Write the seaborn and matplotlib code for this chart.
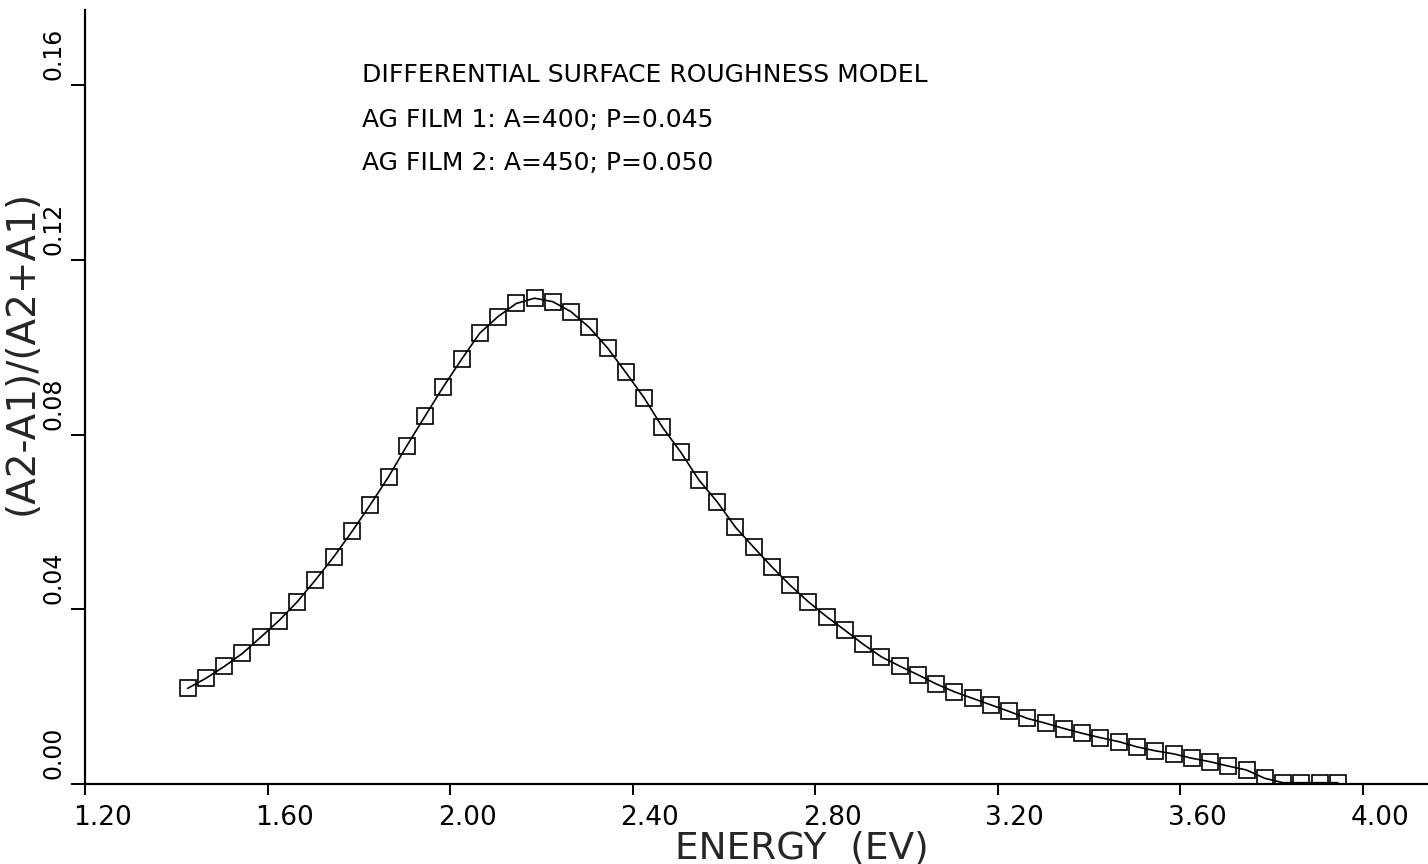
import matplotlib
matplotlib.use("Agg")
import matplotlib.pyplot as plt
from matplotlib.transforms import ScaledTranslation
import seaborn as sns

energy = [1.425, 1.465, 1.505, 1.545, 1.585, 1.625, 1.665, 1.705, 1.745, 1.785,
          1.825, 1.865, 1.905, 1.945, 1.985, 2.025, 2.065, 2.105, 2.145, 2.185,
          2.225, 2.265, 2.305, 2.345, 2.385, 2.425, 2.465, 2.505, 2.545, 2.585,
          2.625, 2.665, 2.705, 2.745, 2.785, 2.825, 2.865, 2.905, 2.945, 2.985,
          3.025, 3.065, 3.105, 3.145, 3.185, 3.225, 3.265, 3.305, 3.345, 3.385,
          3.425, 3.465, 3.505, 3.545, 3.585, 3.625, 3.665, 3.705, 3.745, 3.785,
          3.825, 3.865, 3.905, 3.945]

ratio = [0.0219, 0.0242, 0.0269, 0.0299, 0.0336, 0.0374, 0.0417, 0.0467, 0.0520, 0.0578,
         0.0639, 0.0703, 0.0774, 0.0842, 0.0909, 0.0972, 0.1032, 0.1070, 0.1100, 0.1112,
         0.1104, 0.1081, 0.1045, 0.0998, 0.0942, 0.0884, 0.0817, 0.0760, 0.0696, 0.0646,
         0.0588, 0.0542, 0.0497, 0.0455, 0.0417, 0.0383, 0.0352, 0.0320, 0.0291, 0.0270,
         0.0250, 0.0229, 0.0211, 0.0196, 0.0181, 0.0166, 0.0150, 0.0139, 0.0127, 0.0116,
         0.0106, 0.0097, 0.0085, 0.0076, 0.0069, 0.0059, 0.0051, 0.0041, 0.0032, 0.0013,
         0.0003, 0.0003, 0.0003, 0.0003]

xticks = [1.20, 1.60, 2.00, 2.40, 2.80, 3.20, 3.60, 4.00]
xtick_labels = ["1.20", "1.60", "2.00", "2.40", "2.80", "3.20", "3.60", "4.00"]
yticks = [0.00, 0.04, 0.08, 0.12, 0.16]
ytick_labels = ["0.00", "0.04", "0.08", "0.12", "0.16"]

notes = ["DIFFERENTIAL SURFACE ROUGHNESS MODEL",
         "AG FILM 1: A=400; P=0.045",
         "AG FILM 2: A=450; P=0.050"]

sns.set_style("ticks")
plt.rcParams["font.family"] = ["DejaVu Sans"]

fig = plt.figure(figsize=(14.28, 8.64), dpi=100)
W, H = 1428, 864
left, bottom, right, top = 85, 784, 1428, 10
ax = fig.add_axes([left / W, (H - bottom) / H, (right - left) / W, (bottom - top) / H])

sns.lineplot(x=energy, y=ratio, ax=ax, color="black", linewidth=1.2,
             marker="s", markersize=11, markerfacecolor="none",
             markeredgecolor="black", markeredgewidth=1.2, sort=False)

xpx = 456.4
ax.set_xlim(1.2, 1.2 + (right - left) / xpx)
ypx = 174.75 / 0.04
ax.set_ylim(0.0, (bottom - top) / ypx)

sns.despine(ax=ax, top=True, right=True)
for s in ["left", "bottom"]:
    ax.spines[s].set_linewidth(1.6)
    ax.spines[s].set_color("black")

ax.set_xticks(xticks)
ax.set_xticklabels(xtick_labels, fontsize=19)
ax.set_yticks(yticks)
ax.set_yticklabels(ytick_labels, fontsize=17, rotation=90, va="center")
ax.tick_params(axis="x", direction="out", length=8, width=1.4, pad=7, colors="black")
ax.tick_params(axis="y", direction="out", length=10, width=1.4, pad=4, colors="black")

for lab in ax.get_xticklabels():
    lab.set_transform(lab.get_transform() + ScaledTranslation(17 / 100, 0, fig.dpi_scale_trans))
for lab in ax.get_yticklabels():
    lab.set_transform(lab.get_transform() + ScaledTranslation(0, 31 / 100, fig.dpi_scale_trans))

ax.set_xlabel("ENERGY  (EV)", fontsize=27)
ax.xaxis.set_label_coords((802 - left) / (right - left), (bottom - 830) / (bottom - top))
ax.set_ylabel("(A2-A1)/(A2+A1)", fontsize=28, va="center", ha="center")
ax.yaxis.set_label_coords((22 - left) / (right - left), (bottom - 352) / (bottom - top))

for i, t in enumerate(notes):
    ypos = [75, 120, 163][i]
    ax.text((362 - left) / (right - left), (bottom - ypos) / (bottom - top), t,
            transform=ax.transAxes, fontsize=18, va="center", ha="left", color="black")

ax.grid(False)
fig.savefig("out.png", dpi=100, facecolor="white")
